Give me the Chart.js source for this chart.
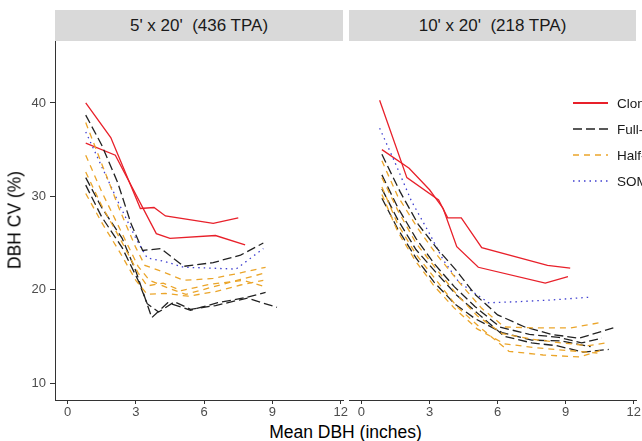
<!DOCTYPE html>
<html>
<head>
<meta charset="utf-8">
<script src="https://cdn.jsdelivr.net/npm/chart.js@4.4.1/dist/chart.umd.min.js"></script>
<style>
  body { margin: 0; width: 642px; height: 441px; overflow: hidden; background: #fff; position: relative;
         font-family: "Liberation Sans", Arial, sans-serif; }
  .strip { position: absolute; top: 10px; height: 31px; background: #d9d9d9; color: #1a1a1a;
           font-size: 17px; line-height: 31px; text-align: center; white-space: pre; }
  canvas { position: absolute; top: 27px; }
  #xtitle { position: absolute; left: 55px; width: 581px; top: 422px; text-align: center; font-size: 17.5px; color: #000; }
  #ytitle { position: absolute; left: 15px; top: 220px; font-size: 17.5px; color: #000; white-space: nowrap;
            transform: translate(-50%, -50%) rotate(-90deg); }
  #legend { position: absolute; left: 573px; top: 90px; }
  .item { height: 26px; display: flex; align-items: center; white-space: nowrap; font-size: 13.5px; color: #1a1a1a; }
  .item svg { margin-right: 9px; }
</style>
</head>
<body>
<div class="strip" id="strip0" style="left:55px; width:288px;"></div>
<div class="strip" id="strip1" style="left:349px; width:287px;"></div>
<canvas id="left" width="355" height="393" style="left:0px;"></canvas>
<canvas id="right" width="310" height="393" style="left:337px;"></canvas>
<div id="ytitle">DBH CV (%)</div>
<div id="xtitle">Mean DBH (inches)</div>
<div id="legend"></div>
<script>
// categories and panel labels
const seriesNames = ["Clonal", "Full-sib", "Half-sib", "SOM"];
const panelTitles = ["5' x 20'  (436 TPA)", "10' x 20'  (218 TPA)"];
const xTicks = [0, 3, 6, 9, 12];
const yTicks = [10, 20, 30, 40];

// 5' x 20' panel: [mean DBH, DBH CV]
const clonal5_1 = [[0.8,40.0],[1.9,36.3],[3.2,28.7],[3.8,28.8],[4.3,27.9],[6.4,27.1],[7.5,27.7]];
const clonal5_2 = [[0.8,35.7],[2.1,34.4],[3.9,26.0],[4.5,25.5],[6.5,25.8],[7.8,24.8]];
const fullsib5_1 = [[0.8,38.7],[1.5,35.5],[2.2,31.5],[2.8,27.0],[3.3,24.2],[4.1,24.4],[5.1,22.5],[6.4,22.9],[7.6,23.7],[8.6,25.0]];
const fullsib5_2 = [[0.8,32.0],[1.5,28.8],[2.4,25.5],[3.0,22.0],[3.7,17.0],[4.4,18.6],[5.4,17.8],[6.6,18.6],[7.9,19.2],[8.7,19.7]];
const fullsib5_3 = [[0.8,31.2],[1.5,27.8],[2.4,24.5],[3.1,21.0],[3.5,18.5],[4.0,17.6],[4.7,18.7],[5.4,17.9],[6.5,18.3],[7.9,19.1],[9.2,18.1]];
const halfsib5_1 = [[0.8,37.9],[1.5,33.5],[2.3,28.5],[3.0,24.5],[3.4,22.6],[4.3,21.8],[5.1,21.0],[6.4,21.2],[7.6,21.8],[8.7,22.4]];
const halfsib5_2 = [[0.8,34.4],[1.5,30.5],[2.3,26.5],[3.1,22.5],[3.6,21.0],[4.4,20.2],[5.2,19.5],[6.4,20.3],[7.6,21.1],[8.7,21.8]];
const halfsib5_3 = [[0.8,32.6],[1.5,29.0],[2.3,25.5],[3.1,21.8],[3.5,20.4],[4.2,20.7],[5.0,19.9],[6.3,20.6],[7.7,21.0],[8.7,20.3]];
const halfsib5_4 = [[0.8,30.3],[1.5,27.2],[2.3,24.0],[3.0,21.0],[3.5,19.5],[4.3,19.6],[5.3,19.3],[6.5,19.8],[7.6,20.5],[8.6,21.0]];
const som5 = [[0.8,36.9],[1.5,33.2],[2.3,29.0],[3.0,25.5],[3.5,23.4],[4.3,23.0],[5.1,22.4],[6.4,22.3],[7.4,22.2],[8.6,24.4]];

// 10' x 20' panel
const clonal10_1 = [[0.8,40.3],[2.0,32.0],[3.4,29.6],[3.8,27.7],[4.4,27.7],[5.3,24.5],[8.2,22.6],[9.2,22.3]];
const clonal10_2 = [[0.9,35.0],[2.1,33.0],[3.0,30.7],[3.6,28.7],[4.2,24.6],[5.15,22.4],[8.1,20.7],[9.1,21.4]];
const fullsib10_1 = [[0.9,34.5],[1.7,30.5],[2.5,27.0],[3.3,24.5],[4.2,22.0],[5.0,19.5],[6.0,17.3],[7.2,16.0],[8.4,15.2],[9.6,14.8],[11.1,15.9]];
const fullsib10_2 = [[0.9,32.3],[1.6,28.8],[2.4,25.5],[3.2,22.8],[4.1,20.3],[5.0,18.2],[6.1,16.0],[7.4,15.2],[8.7,14.9],[9.7,14.3],[10.6,14.8]];
const fullsib10_3 = [[0.9,30.8],[1.6,27.5],[2.4,24.3],[3.3,21.8],[4.2,19.4],[5.2,17.3],[6.3,15.0],[7.5,14.3],[8.6,14.0],[9.8,13.3],[10.9,13.6]];
const fullsib10_4 = [[0.9,29.8],[1.6,26.5],[2.4,23.4],[3.2,20.8],[4.1,18.5],[5.0,16.9],[6.2,15.4],[7.5,14.6],[8.8,14.5],[10.1,13.9]];
const halfsib10_1 = [[0.9,33.8],[1.6,30.0],[2.5,26.5],[3.3,23.8],[4.3,20.8],[5.3,18.0],[6.3,16.0],[7.7,15.9],[9.2,15.9],[10.6,16.5]];
const halfsib10_2 = [[0.9,32.0],[1.6,28.5],[2.4,25.0],[3.3,22.2],[4.2,19.5],[5.1,17.2],[6.2,15.3],[7.5,14.7],[8.8,14.3],[10.0,14.0],[10.8,14.3]];
const halfsib10_3 = [[0.9,31.0],[1.6,27.0],[2.4,23.8],[3.3,21.0],[4.2,18.2],[5.2,16.0],[6.5,13.4],[8.0,13.0],[9.6,12.8],[10.7,13.6]];
const halfsib10_4 = [[0.9,30.2],[1.6,26.2],[2.4,23.0],[3.2,20.4],[4.1,18.0],[5.1,15.8],[6.3,14.2],[7.6,13.8],[9.0,13.5],[10.4,13.2]];
const som10 = [[0.8,37.3],[1.5,33.5],[2.2,29.5],[3.0,26.0],[3.6,23.2],[4.3,20.8],[5.6,18.6],[6.8,18.7],[8.4,18.9],[10.1,19.2]];

// line styles per family
const styles = {
  "Clonal":   { color: "#e8202a", dash: [] },
  "Full-sib": { color: "#222222", dash: [9, 4] },
  "Half-sib": { color: "#eba52a", dash: [6, 5] },
  "SOM":      { color: "#3f3fd0", dash: [1.5, 4] },
};

const panels = [
  [["Half-sib", halfsib5_1], ["Half-sib", halfsib5_2], ["Half-sib", halfsib5_3], ["Half-sib", halfsib5_4],
   ["Full-sib", fullsib5_1], ["Full-sib", fullsib5_2], ["Full-sib", fullsib5_3],
   ["SOM", som5], ["Clonal", clonal5_1], ["Clonal", clonal5_2]],
  [["Half-sib", halfsib10_1], ["Half-sib", halfsib10_2], ["Half-sib", halfsib10_3], ["Half-sib", halfsib10_4],
   ["Full-sib", fullsib10_1], ["Full-sib", fullsib10_2], ["Full-sib", fullsib10_3], ["Full-sib", fullsib10_4],
   ["SOM", som10], ["Clonal", clonal10_1], ["Clonal", clonal10_2]],
];

document.getElementById("strip0").textContent = panelTitles[0];
document.getElementById("strip1").textContent = panelTitles[1];

function makeDatasets(lines) {
  return lines.map(([name, pts]) => ({
    label: name,
    data: pts.map(([x, y]) => ({ x, y })),
    borderColor: styles[name].color,
    borderDash: styles[name].dash,
    borderWidth: 1.3,
    pointRadius: 0,
    fill: false,
    tension: 0,
  }));
}

function axisX() {
  return {
    type: "linear", min: -0.55, max: 12.1,
    afterBuildTicks: s => { s.ticks = xTicks.map(v => ({ value: v })); },
    afterFit: s => { s.height = 20; },
    grid: { drawOnChartArea: false, drawTicks: true, tickLength: 4, color: "#333" },
    border: { display: true, color: "#333", width: 1 },
    ticks: { color: "#4d4d4d", font: { size: 13, family: "Liberation Sans" }, padding: 1, maxRotation: 0 },
  };
}

function axisY(show) {
  return {
    type: "linear", min: 8.18, max: 46.64, display: show,
    afterBuildTicks: s => { s.ticks = yTicks.map(v => ({ value: v })); },
    afterFit: s => { s.width = show ? 55 : 0; },
    grid: { drawOnChartArea: false, drawTicks: true, tickLength: 5, color: "#333" },
    border: { display: true, color: "#333", width: 1 },
    ticks: { color: "#4d4d4d", font: { size: 13, family: "Liberation Sans" }, padding: 4 },
  };
}

function makeChart(id, lines, showY, padding) {
  new Chart(document.getElementById(id), {
    type: "line",
    data: { datasets: makeDatasets(lines) },
    options: {
      responsive: false,
      animation: false,
      devicePixelRatio: 1,
      layout: { padding },
      plugins: { legend: { display: false }, tooltip: { enabled: false } },
      scales: { x: axisX(), y: axisY(showY) },
    },
  });
}

makeChart("left", panels[0], true, { top: 14, right: 12, bottom: 0, left: 0 });
makeChart("right", panels[1], false, { top: 14, right: 11, bottom: 0, left: 12 });

// legend drawn inside the right panel
const legend = document.getElementById("legend");
seriesNames.forEach(name => {
  const st = styles[name];
  const row = document.createElement("div");
  row.className = "item";
  row.innerHTML = `<svg width="35" height="6"><line x1="0" y1="3" x2="35" y2="3" stroke="${st.color}"
    stroke-width="${name === "Clonal" ? 1.8 : 1.5}" stroke-dasharray="${st.dash.join(",")}"/></svg>${name}`;
  legend.appendChild(row);
});
</script>
</body>
</html>
